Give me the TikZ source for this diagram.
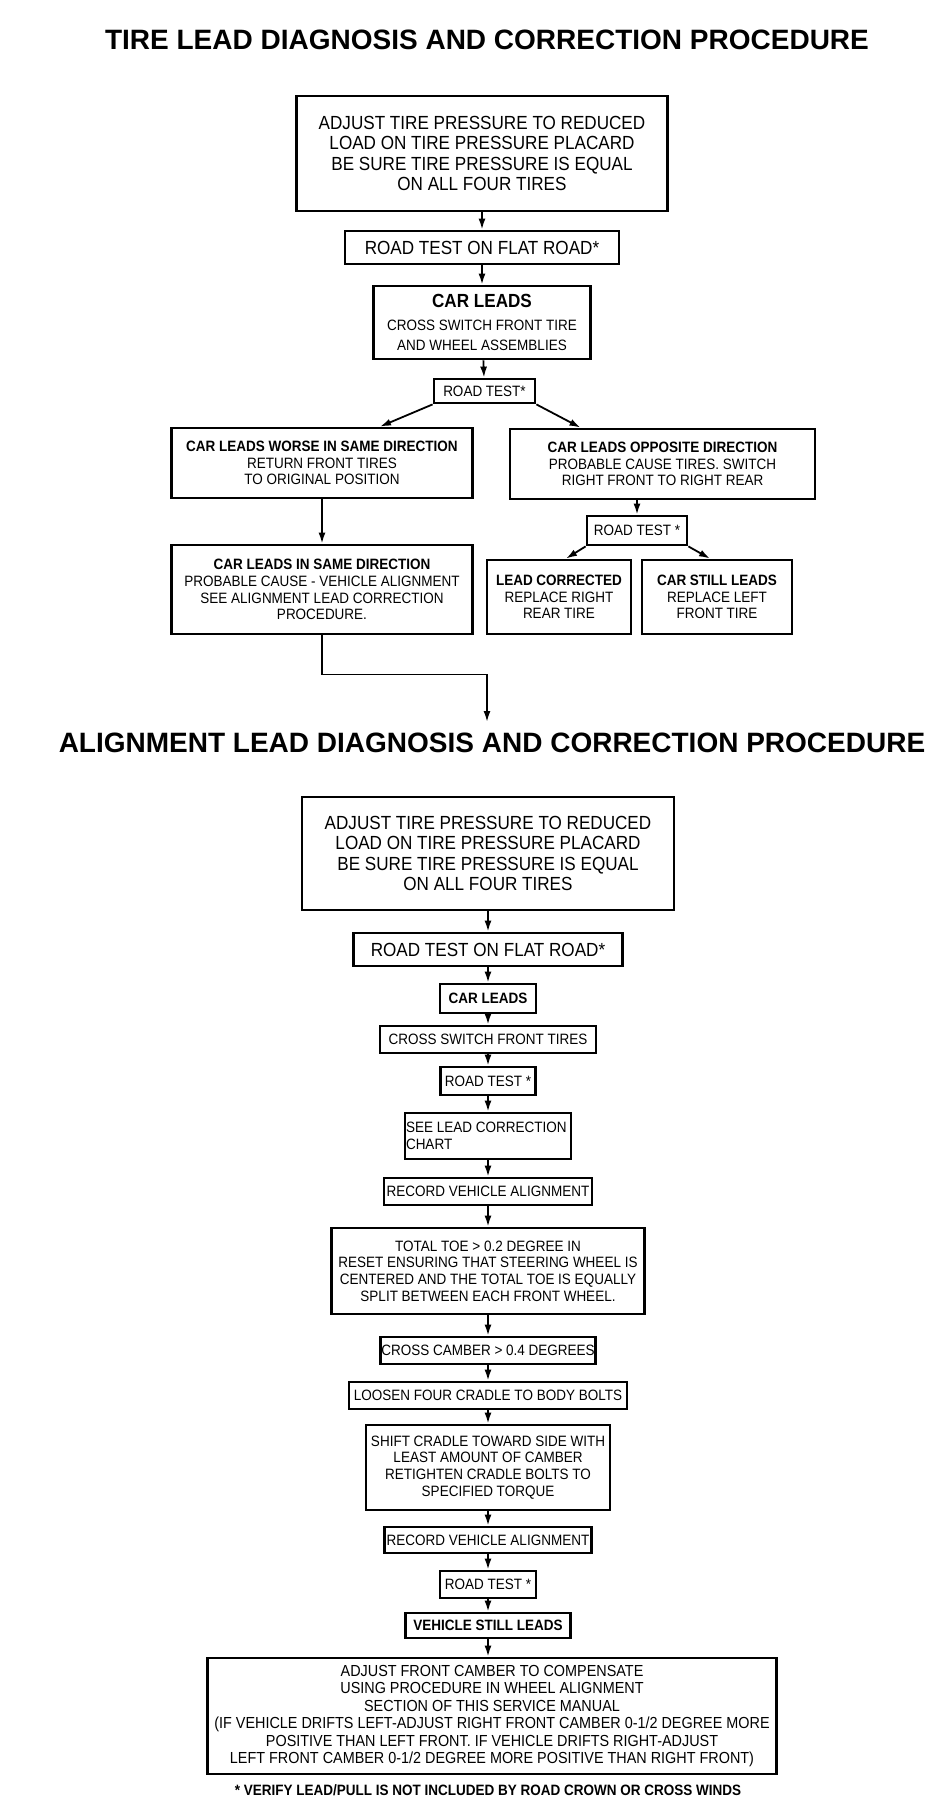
\documentclass[tikz,border=0pt]{standalone}
\usepackage{fontspec}
\usetikzlibrary{arrows.meta,calc}
\newfontfamily\plainsans{Liberation Sans}
\newfontfamily\narrowsans[FakeStretch=0.9]{Liberation Sans}
\newcommand\titlefont{\plainsans\bfseries\fontsize{28}{30}\selectfont}
\newcommand\bigtext{\narrowsans\fontsize{19}{20.5}\selectfont}
\newcommand\smalltext{\narrowsans\fontsize{15}{16.7}\selectfont}
\newcommand\widetext{\narrowsans\fontsize{16}{17.4}\selectfont}
\begin{document}
\begin{tikzpicture}[x=1pt, y=-1pt,
  bx/.style={draw, line width=2.8pt, inner sep=0pt, align=center},
  arr/.style={line width=1.8pt, -{Latex[length=11pt,width=7pt]}}]
\useasboundingbox (0,0) rectangle (944,1802);
% tire lead procedure
\node[font=\titlefont] (head1) at (487,40) {TIRE LEAD DIAGNOSIS AND CORRECTION PROCEDURE};
\node[bx, font=\bigtext, minimum width=371, minimum height=115] (adj1) at (482,153.5)
  {ADJUST TIRE PRESSURE TO REDUCED\\LOAD ON TIRE PRESSURE PLACARD\\BE SURE TIRE PRESSURE IS EQUAL\\ON ALL FOUR TIRES};
\node[bx, font=\bigtext, minimum width=274, minimum height=33] (flat1) at (482,247.5) {ROAD TEST ON FLAT ROAD*};
\node[bx, font=\smalltext, minimum width=217, minimum height=73] (leads1) at (482,322.5)
  {{\bigtext\bfseries CAR LEADS}\\[6pt]CROSS SWITCH FRONT TIRE\\[4pt]AND WHEEL ASSEMBLIES};
\node[bx, font=\smalltext, minimum width=101, minimum height=24] (rt1) at (484.5,391) {ROAD TEST*};
\node[bx, font=\smalltext, minimum width=301, minimum height=70] (worse) at (322,463)
  {\textbf{CAR LEADS WORSE IN SAME DIRECTION}\\RETURN FRONT TIRES\\TO ORIGINAL POSITION};
\node[bx, font=\smalltext, minimum width=305, minimum height=70] (opp) at (662.5,464)
  {\textbf{CAR LEADS OPPOSITE DIRECTION}\\PROBABLE CAUSE TIRES. SWITCH\\RIGHT FRONT TO RIGHT REAR};
\node[bx, font=\smalltext, minimum width=301, minimum height=89] (same) at (322,589.5)
  {\textbf{CAR LEADS IN SAME DIRECTION}\\PROBABLE CAUSE - VEHICLE ALIGNMENT\\SEE ALIGNMENT LEAD CORRECTION\\PROCEDURE.};
\node[bx, font=\smalltext, minimum width=100, minimum height=29] (rt2) at (637,530.5) {ROAD TEST *};
\node[bx, font=\smalltext, minimum width=144, minimum height=74] (corr) at (559,597)
  {\textbf{LEAD CORRECTED}\\REPLACE RIGHT\\REAR TIRE};
\node[bx, font=\smalltext, minimum width=150, minimum height=74] (still) at (717,597)
  {\textbf{CAR STILL LEADS}\\REPLACE LEFT\\FRONT TIRE};
\coordinate (jump) at (487,722);
\draw[arr] (adj1) -- (flat1);
\draw[arr] (flat1) -- (leads1);
\draw[arr] (leads1) -- (rt1);
\draw[arr] (rt1.south west) -- ($(worse.north)+(58,0)$);
\draw[arr] (rt1.south east) -- ($(opp.north)+(-82,0)$);
\draw[arr] (worse) -- (same);
\draw[arr] (rt2.north |- opp.south) -- (rt2.north);
\draw[arr] (rt2.south west) -- ($(corr.north)+(7,0)$);
\draw[arr] (rt2.south east) -- ($(still.north)+(-7,0)$);
\draw[arr] (same.south) -- ++(0,39) -| (jump);
% alignment lead procedure
\node[font=\titlefont] (head2) at (492,743) {ALIGNMENT LEAD DIAGNOSIS AND CORRECTION PROCEDURE};
\node[bx, font=\bigtext, minimum width=372, minimum height=113] (adj2) at (488,853.5)
  {ADJUST TIRE PRESSURE TO REDUCED\\LOAD ON TIRE PRESSURE PLACARD\\BE SURE TIRE PRESSURE IS EQUAL\\ON ALL FOUR TIRES};
\node[bx, font=\bigtext, minimum width=269, minimum height=33] (flat2) at (488,949.5) {ROAD TEST ON FLAT ROAD*};
\node[bx, font=\smalltext, minimum width=96, minimum height=29] (leads2) at (488,998.5) {\textbf{CAR LEADS}};
\node[bx, font=\smalltext, minimum width=216, minimum height=27] (cross) at (488,1039.5) {CROSS SWITCH FRONT TIRES};
\node[bx, font=\smalltext, minimum width=95, minimum height=28] (rt3) at (488,1081) {ROAD TEST *};
\node[bx, font=\smalltext, minimum width=166, minimum height=46, text width=164, align=flush left] (chart) at (488,1136)
  {SEE LEAD CORRECTION\\CHART};
\node[bx, font=\smalltext, minimum width=208, minimum height=27] (rec1) at (488,1191.5) {RECORD VEHICLE ALIGNMENT};
\node[bx, font=\smalltext, minimum width=313, minimum height=86] (toe) at (488,1271)
  {TOTAL TOE > 0.2 DEGREE IN\\RESET ENSURING THAT STEERING WHEEL IS\\CENTERED AND THE TOTAL TOE IS EQUALLY\\SPLIT BETWEEN EACH FRONT WHEEL.};
\node[bx, font=\smalltext, minimum width=215, minimum height=27] (camber) at (488,1350.5) {CROSS CAMBER > 0.4 DEGREES};
\node[bx, font=\smalltext, minimum width=278, minimum height=27] (loosen) at (488,1395.5) {LOOSEN FOUR CRADLE TO BODY BOLTS};
\node[bx, font=\smalltext, minimum width=244, minimum height=85] (shift) at (488,1467.5)
  {SHIFT CRADLE TOWARD SIDE WITH\\LEAST AMOUNT OF CAMBER\\RETIGHTEN CRADLE BOLTS TO\\SPECIFIED TORQUE};
\node[bx, font=\smalltext, minimum width=207, minimum height=26] (rec2) at (488,1540) {RECORD VEHICLE ALIGNMENT};
\node[bx, font=\smalltext, minimum width=96, minimum height=27] (rt4) at (488,1584.5) {ROAD TEST *};
\node[bx, font=\smalltext, minimum width=165, minimum height=25] (vsl) at (488,1625.5) {\textbf{VEHICLE STILL LEADS}};
\node[bx, font=\widetext, minimum width=569, minimum height=116] (front) at (492,1716)
  {ADJUST FRONT CAMBER TO COMPENSATE\\USING PROCEDURE IN WHEEL ALIGNMENT\\SECTION OF THIS SERVICE MANUAL\\(IF VEHICLE DRIFTS LEFT-ADJUST RIGHT FRONT CAMBER 0-1/2 DEGREE MORE\\POSITIVE THAN LEFT FRONT. IF VEHICLE DRIFTS RIGHT-ADJUST\\LEFT FRONT CAMBER 0-1/2 DEGREE MORE POSITIVE THAN RIGHT FRONT)};
\node[font=\smalltext\bfseries] (note) at (488,1790) {* VERIFY LEAD/PULL IS NOT INCLUDED BY ROAD CROWN OR CROSS WINDS};
\foreach \a/\b in {adj2/flat2, flat2/leads2, leads2/cross, cross/rt3, rt3/chart, chart/rec1, rec1/toe,
  toe/camber, camber/loosen, loosen/shift, shift/rec2, rec2/rt4, rt4/vsl}
  \draw[arr] (\a) -- (\b);
\draw[arr] (vsl.south) -- (vsl.south |- front.north);
\end{tikzpicture}
\end{document}
